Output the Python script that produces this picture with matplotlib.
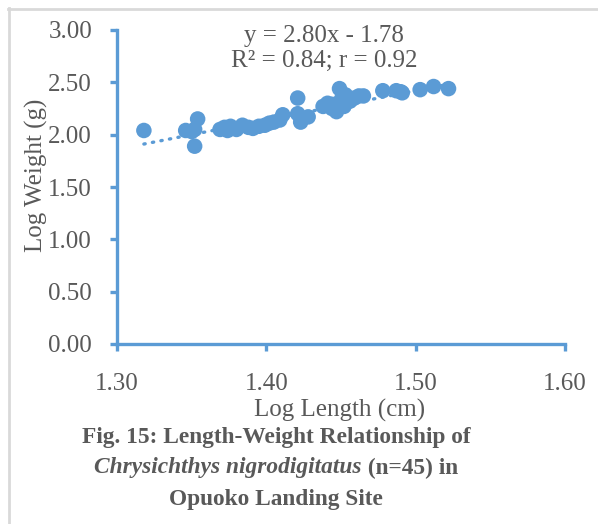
import matplotlib
matplotlib.use("Agg")
import matplotlib.pyplot as plt
from matplotlib.lines import Line2D

log_length = [1.318, 1.346, 1.350, 1.352, 1.354, 1.352, 1.369, 1.372, 1.374, 1.377,
              1.380, 1.384, 1.388, 1.391, 1.395, 1.399, 1.402, 1.405, 1.409, 1.411,
              1.421, 1.421, 1.423, 1.428, 1.438, 1.441, 1.444, 1.447, 1.449, 1.450,
              1.452, 1.453, 1.456, 1.459, 1.462, 1.465, 1.478, 1.487, 1.491, 1.503,
              1.512, 1.522, 1.444, 1.376, 1.490]
log_weight = [2.04, 2.04, 2.03, 2.05, 2.15, 1.89, 2.05, 2.07, 2.04, 2.06,
              2.05, 2.09, 2.07, 2.06, 2.08, 2.09, 2.11, 2.12, 2.14, 2.19,
              2.35, 2.20, 2.12, 2.17, 2.27, 2.30, 2.25, 2.22, 2.44, 2.33,
              2.27, 2.38, 2.32, 2.35, 2.37, 2.37, 2.42, 2.42, 2.40, 2.43,
              2.46, 2.44, 2.29, 2.08, 2.41]
slope, intercept = 2.80, -1.78
x_ticks = [1.30, 1.40, 1.50, 1.60]
y_ticks = [0.00, 0.50, 1.00, 1.50, 2.00, 2.50, 3.00]

W, H = 598, 524
blue = "#5B9BD5"
gray = "#595959"
serif = ["Liberation Serif", "DejaVu Serif"]

fig = plt.figure(figsize=(W / 100, H / 100), dpi=100)
fig.patch.set_facecolor("white")

# light frame lines
fig.add_artist(Line2D([8.5 / W, 8.5 / W], [0, 1 - 8 / H], color="#d9d9d9", lw=2))
fig.add_artist(Line2D([8 / W, 1], [1 - 8.5 / H, 1 - 8.5 / H], color="#d9d9d9", lw=2))

ax = fig.add_axes([117 / W, 180 / H, (565 - 117) / W, (344 - 30) / H])
ax.scatter(log_length, log_weight, s=125, color=blue, edgecolors="none", zorder=3)
xs = [min(log_length), max(log_length)]
ax.plot(xs, [slope * v + intercept for v in xs], color=blue, lw=2.4,
        linestyle=(0, (0.4, 2.2)), dash_capstyle="round", zorder=2)

ax.set_xlim(1.30, 1.60)
ax.set_ylim(0.0, 3.0)
ax.set_xticks(x_ticks)
ax.set_yticks(y_ticks)
ax.set_xticklabels([f"{v:.2f}" for v in x_ticks])
ax.set_yticklabels([f"{v:.2f}" for v in y_ticks])
for s in ["top", "right"]:
    ax.spines[s].set_visible(False)
for s in ["left", "bottom"]:
    ax.spines[s].set_color(blue)
    ax.spines[s].set_linewidth(2.4)
    ax.spines[s].set_capstyle("projecting")
ax.tick_params(axis="both", direction="out", length=5, width=2.4, color=blue,
               labelcolor=gray, labelsize=18)
ax.tick_params(axis="x", pad=16)
ax.tick_params(axis="y", pad=13)
for lab in ax.get_xticklabels() + ax.get_yticklabels():
    lab.set_fontfamily(serif)
for v in ax.get_xticklines() + ax.get_yticklines():
    v.set_clip_on(False)

fig.text(340 / W, 1 - 410 / H, "Log Length (cm)", ha="center", va="center",
         fontsize=18, color=gray, family=serif)
fig.text(36 / W, 1 - 175 / H, "Log Weight (g)", ha="center", va="center",
         rotation=90, fontsize=18, color=gray, family=serif)

fig.text(324 / W, 1 - 36 / H, "y = 2.80x - 1.78", ha="center", va="center",
         fontsize=18, color=gray, family=serif)
fig.text(324 / W, 1 - 61 / H, "R² = 0.84; r = 0.92", ha="center", va="center",
         fontsize=18, color=gray, family=serif)

# caption
cx = 276 / W
cfs = 16.8
fig.text(cx, 1 - 437 / H, "Fig. 15: Length-Weight Relationship of", ha="center",
         va="center", fontsize=cfs, color=gray, family=serif, fontweight="bold")
fig.text(cx, 1 - 499 / H, "Opuoko Landing Site", ha="center",
         va="center", fontsize=cfs, color=gray, family=serif, fontweight="bold")

renderer = fig.canvas.get_renderer()
t1 = fig.text(0, 1 - 468 / H, "Chrysichthys nigrodigitatus", ha="left", va="center",
              fontsize=cfs, color=gray, family=serif, style="italic", fontweight="bold")
t2 = fig.text(0, 1 - 468 / H, " (n=45) in", ha="left", va="center",
              fontsize=cfs, color=gray, family=serif, fontweight="bold")
w1 = t1.get_window_extent(renderer).width
w2 = t2.get_window_extent(renderer).width
start = cx * W - (w1 + w2) / 2
t1.set_x(start / W)
t2.set_x((start + w1) / W)

fig.savefig("out.png", dpi=100, facecolor="white")
